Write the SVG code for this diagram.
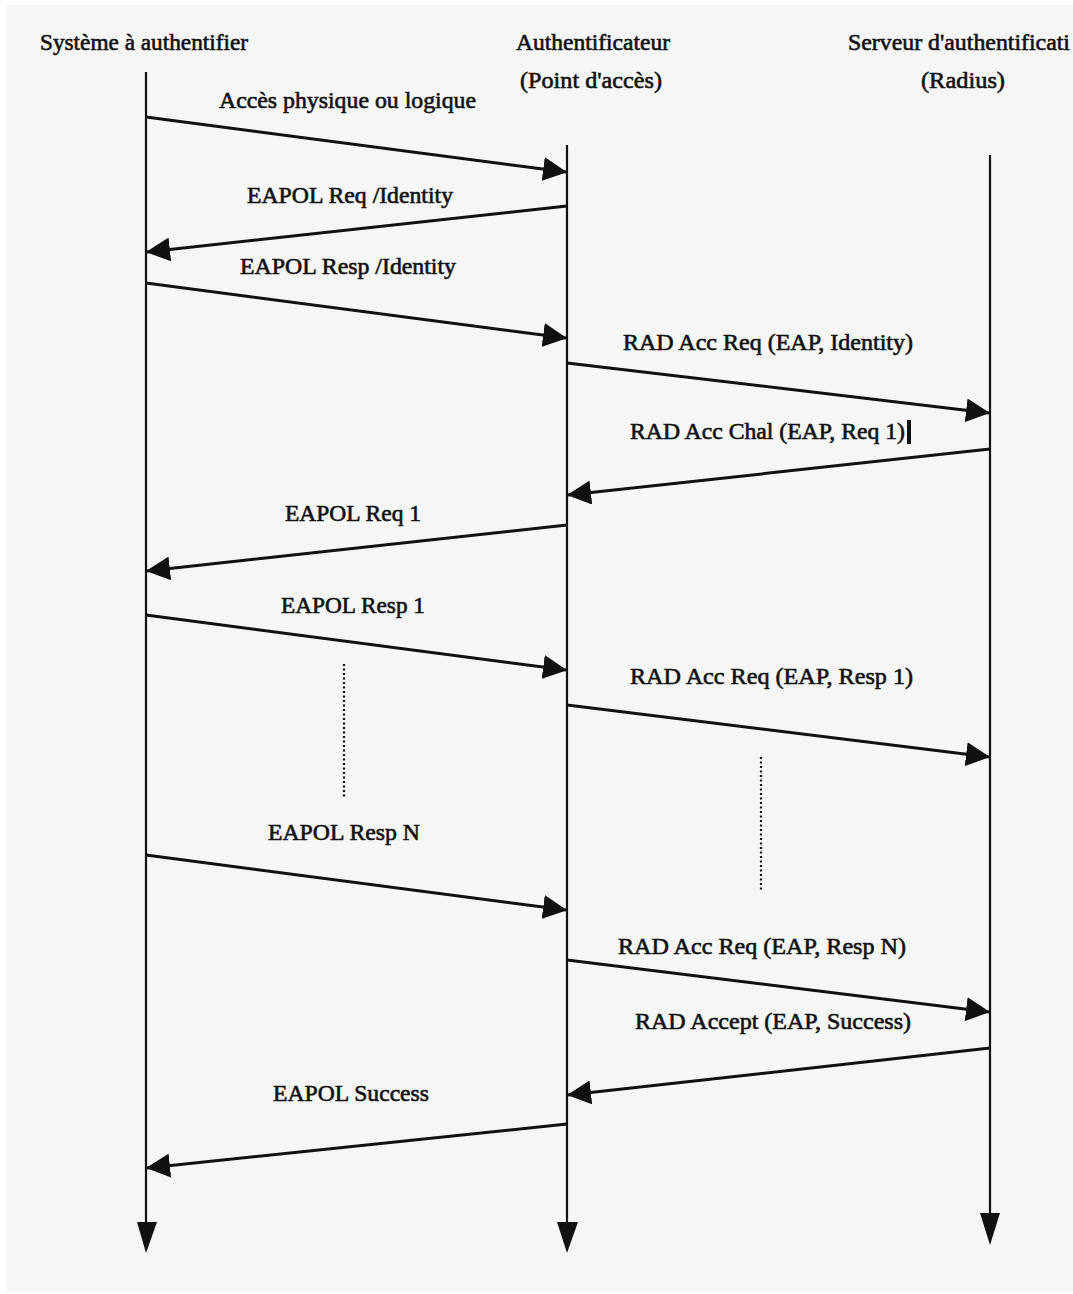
<svg xmlns="http://www.w3.org/2000/svg" width="1073" height="1294" viewBox="0 0 1073 1294">
<style>
.t{font-family:"Liberation Serif","Times New Roman",serif;font-size:23px;fill:#111;stroke:#111;stroke-width:0.6}
.life{stroke:#111;stroke-width:2.2;fill:none}
.msg{stroke:#111;stroke-width:3;fill:none;marker-end:url(#ah)}
.dot{stroke:#111;stroke-width:2.2;stroke-dasharray:2 2.5;fill:none}
.head{fill:#111}
</style>
<defs>
<marker id="ah" viewBox="0 0 24 24" refX="23" refY="12" markerWidth="24" markerHeight="24" markerUnits="userSpaceOnUse" orient="auto">
<path d="M0,0 L24,12 L0,24 Z" fill="#111"/>
</marker>
</defs>
<rect x="0" y="0" width="1073" height="1294" fill="#ffffff"/>
<rect x="6" y="5" width="1067" height="1287" fill="#f6f6f6"/>

<g id="systeme">
<text class="t" x="40" y="50" textLength="208" lengthAdjust="spacingAndGlyphs">Système à authentifier</text>
<line class="life" x1="146" y1="72" x2="146" y2="1225"/>
<path class="head" d="M137,1222 L157,1222 L146,1253 Z"/>
</g>

<g id="authentificateur">
<text class="t" x="516" y="50" textLength="154" lengthAdjust="spacingAndGlyphs">Authentificateur</text>
<text class="t" x="520" y="88" textLength="142" lengthAdjust="spacingAndGlyphs">(Point d'accès)</text>
<line class="life" x1="567" y1="145" x2="567" y2="1225"/>
<path class="head" d="M557,1222 L578,1222 L567,1253 Z"/>
</g>

<g id="serveur">
<text class="t" x="848" y="50" textLength="222" lengthAdjust="spacingAndGlyphs">Serveur d'authentificati</text>
<text class="t" x="921" y="88" textLength="84" lengthAdjust="spacingAndGlyphs">(Radius)</text>
<line class="life" x1="990" y1="155" x2="990" y2="1216"/>
<path class="head" d="M980,1213 L1000,1213 L990,1245 Z"/>
</g>

<g id="connectors">
<line class="msg" x1="146" y1="117" x2="566" y2="172"/>
<line class="msg" x1="567" y1="206" x2="147" y2="252"/>
<line class="msg" x1="146" y1="283" x2="566" y2="338"/>
<line class="msg" x1="567" y1="363" x2="989" y2="413"/>
<line class="msg" x1="990" y1="449" x2="568" y2="495"/>
<line class="msg" x1="567" y1="525" x2="147" y2="571"/>
<line class="msg" x1="146" y1="615" x2="566" y2="670"/>
<line class="msg" x1="567" y1="705" x2="989" y2="757"/>
<line class="msg" x1="146" y1="855" x2="566" y2="910"/>
<line class="msg" x1="567" y1="960" x2="989" y2="1012"/>
<line class="msg" x1="990" y1="1048" x2="568" y2="1095"/>
<line class="msg" x1="567" y1="1124" x2="147" y2="1168"/>
<line class="dot" x1="344" y1="664" x2="344" y2="797"/>
<line class="dot" x1="761" y1="757" x2="761" y2="890"/>
</g>

<g id="labels">
<text class="t" x="219" y="108" textLength="257" lengthAdjust="spacingAndGlyphs">Accès physique ou logique</text>
<text class="t" x="247" y="203" textLength="206" lengthAdjust="spacingAndGlyphs">EAPOL Req /Identity</text>
<text class="t" x="240" y="274" textLength="216" lengthAdjust="spacingAndGlyphs">EAPOL Resp /Identity</text>
<text class="t" x="623" y="350" textLength="290" lengthAdjust="spacingAndGlyphs">RAD Acc Req (EAP, Identity)</text>
<text class="t" x="630" y="439" textLength="275" lengthAdjust="spacingAndGlyphs">RAD Acc Chal (EAP, Req 1)</text>
<rect x="907" y="420" width="4" height="24" fill="#111"/>
<text class="t" x="285" y="521" textLength="136" lengthAdjust="spacingAndGlyphs">EAPOL Req 1</text>
<text class="t" x="281" y="613" textLength="144" lengthAdjust="spacingAndGlyphs">EAPOL Resp 1</text>
<text class="t" x="630" y="684" textLength="283" lengthAdjust="spacingAndGlyphs">RAD Acc Req (EAP, Resp 1)</text>
<text class="t" x="268" y="840" textLength="152" lengthAdjust="spacingAndGlyphs">EAPOL Resp N</text>
<text class="t" x="618" y="954" textLength="288" lengthAdjust="spacingAndGlyphs">RAD Acc Req (EAP, Resp N)</text>
<text class="t" x="635" y="1029" textLength="276" lengthAdjust="spacingAndGlyphs">RAD Accept (EAP, Success)</text>
<text class="t" x="273" y="1101" textLength="156" lengthAdjust="spacingAndGlyphs">EAPOL Success</text>
</g>
</svg>
